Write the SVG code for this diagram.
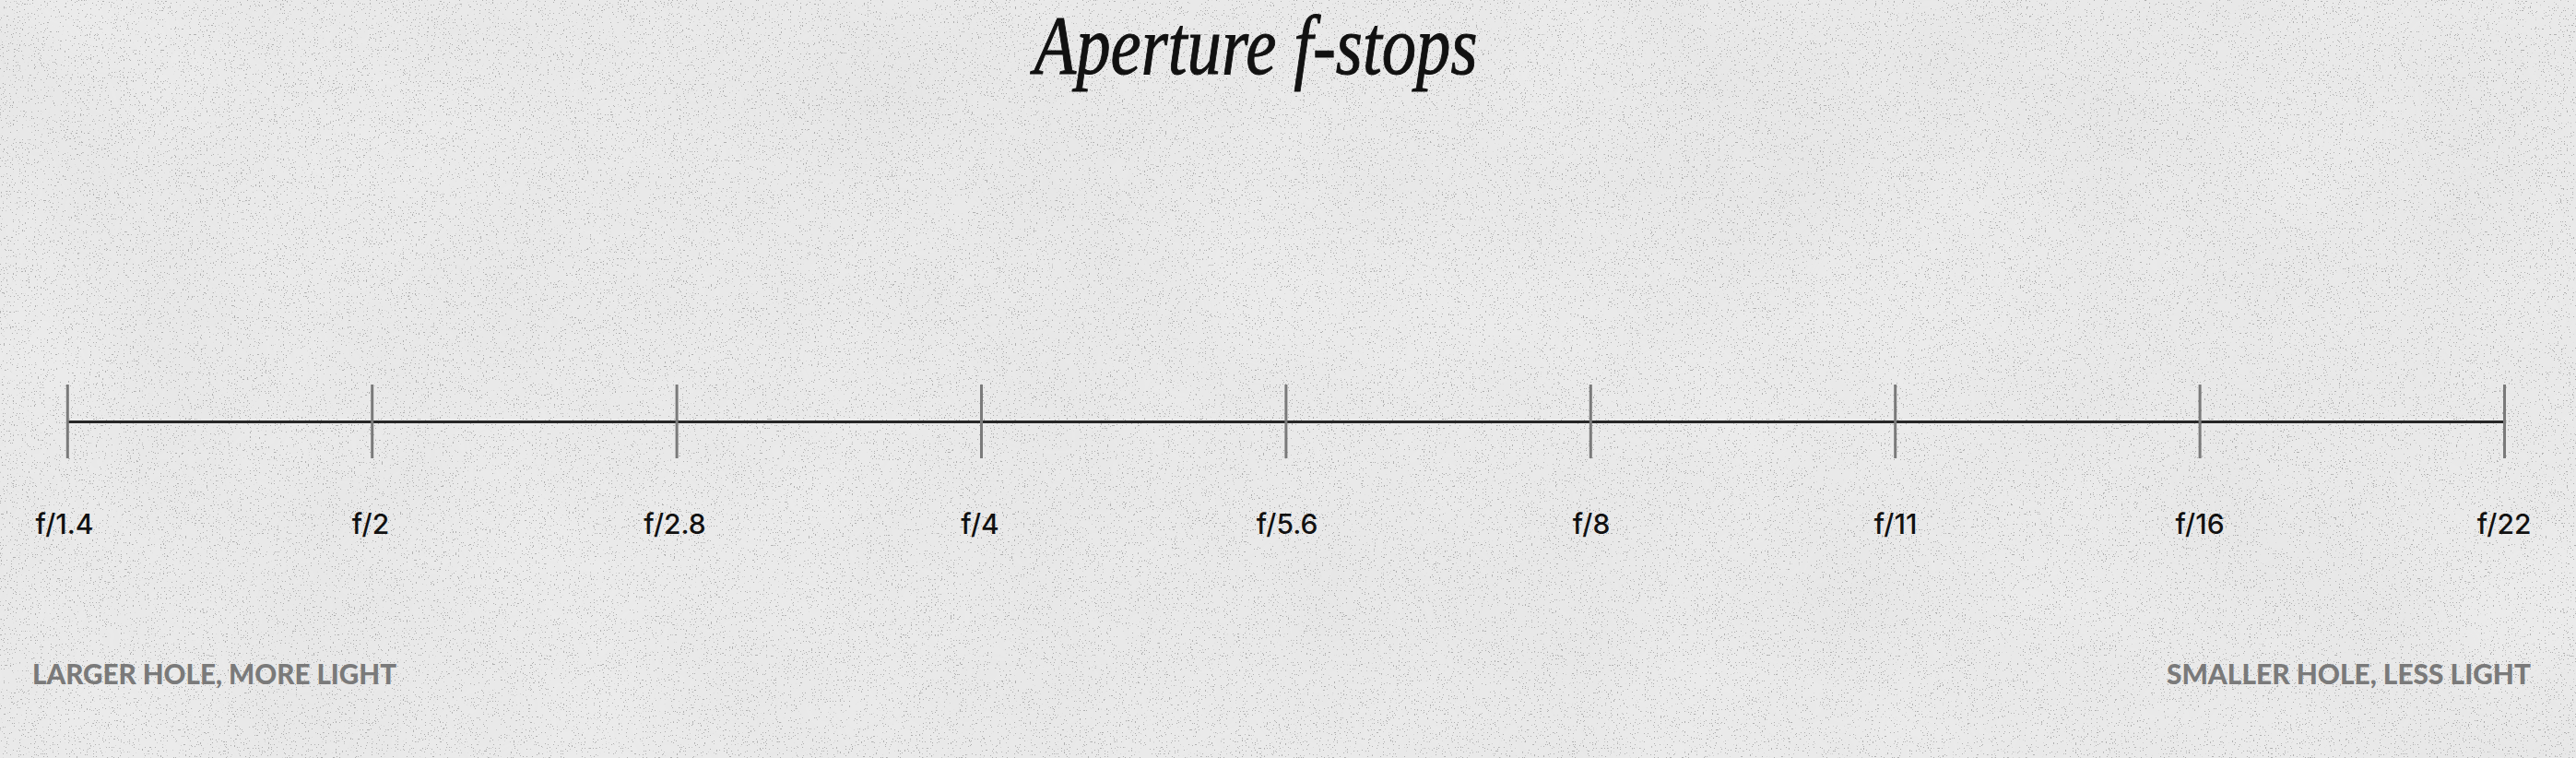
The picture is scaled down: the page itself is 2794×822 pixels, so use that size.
<svg xmlns="http://www.w3.org/2000/svg" width="2794" height="822" viewBox="0 0 2794 822">
<defs>
<filter id="paper" x="0" y="0" width="100%" height="100%">
<feTurbulence type="fractalNoise" baseFrequency="0.004" numOctaves="4" seed="7" result="n"/>
<feColorMatrix type="matrix" values="0 0 0 0 0.5  0 0 0 0 0.5  0 0 0 0 0.5  0 0 0 -1.2 0.9"/>
</filter>
<filter id="grain" x="0" y="0" width="100%" height="100%">
<feTurbulence type="fractalNoise" baseFrequency="0.7" numOctaves="2" seed="3"/>
<feColorMatrix type="matrix" values="0 0 0 0 0.25  0 0 0 0 0.25  0 0 0 0 0.25  0 0 0 -30 9.3"/>
</filter>
</defs>
<style>
.axis{stroke:#262626;stroke-width:3;fill:none}
.tick{stroke:#7a7a7a;stroke-width:3}
.lbl{font-family:Inter,"Noto Sans","Liberation Sans",sans-serif;font-weight:500;font-size:30px;fill:#111;text-anchor:middle}
.note{font-family:Lato,"Noto Sans","Liberation Sans",sans-serif;font-weight:900;font-size:30px;fill:#7a7a7a}
.title{font-family:"Liberation Serif","DejaVu Serif",serif;font-style:italic;font-size:90px;fill:#111;stroke:#111;stroke-width:1;text-anchor:middle}
</style>
<rect width="2794" height="822" fill="#ebebeb"/>
<rect width="2794" height="822" filter="url(#paper)" opacity="0.12"/>
<rect width="2794" height="822" filter="url(#grain)" opacity="0.6"/>
<text id="title" class="title" x="1362" y="80" textLength="481" lengthAdjust="spacingAndGlyphs">Aperture f-stops</text>
<g id="connectors">
<line class="axis" x1="73" y1="457.5" x2="2716.5" y2="457.5"/>
</g>
<g id="stop-1.4"><line class="tick" x1="73.3" y1="417" x2="73.3" y2="497"/><text class="lbl" x="70" y="579">f/1.4</text></g>
<g id="stop-2"><line class="tick" x1="403.7" y1="417" x2="403.7" y2="497"/><text class="lbl" x="402" y="579">f/2</text></g>
<g id="stop-2.8"><line class="tick" x1="734.1" y1="417" x2="734.1" y2="497"/><text class="lbl" x="732" y="579">f/2.8</text></g>
<g id="stop-4"><line class="tick" x1="1064.5" y1="417" x2="1064.5" y2="497"/><text class="lbl" x="1063" y="579">f/4</text></g>
<g id="stop-5.6"><line class="tick" x1="1394.9" y1="417" x2="1394.9" y2="497"/><text class="lbl" x="1396" y="579">f/5.6</text></g>
<g id="stop-8"><line class="tick" x1="1725.3" y1="417" x2="1725.3" y2="497"/><text class="lbl" x="1726" y="579">f/8</text></g>
<g id="stop-11"><line class="tick" x1="2055.7" y1="417" x2="2055.7" y2="497"/><text class="lbl" x="2056" y="579">f/11</text></g>
<g id="stop-16"><line class="tick" x1="2386.1" y1="417" x2="2386.1" y2="497"/><text class="lbl" x="2386" y="579">f/16</text></g>
<g id="stop-22"><line class="tick" x1="2716.5" y1="417" x2="2716.5" y2="497"/><text class="lbl" x="2716" y="579">f/22</text></g>
<g id="note-left"><text class="note" x="35" y="742" textLength="395" lengthAdjust="spacingAndGlyphs">LARGER HOLE, MORE LIGHT</text></g>
<g id="note-right"><text class="note" x="2745" y="742" text-anchor="end" textLength="395" lengthAdjust="spacingAndGlyphs">SMALLER HOLE, LESS LIGHT</text></g>
</svg>
